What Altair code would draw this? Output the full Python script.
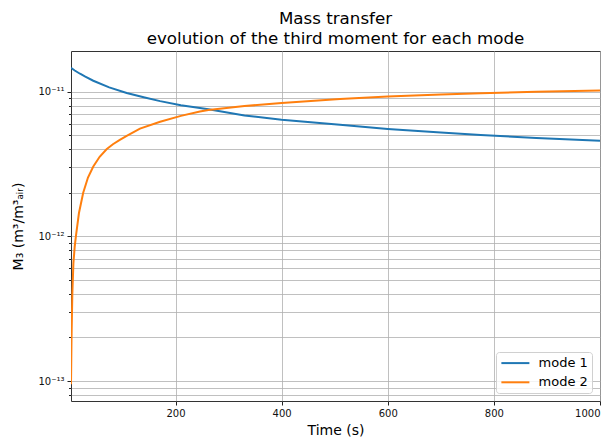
import altair as alt
import pandas as pd

# ---- data ----
t_mode1 = [3, 10, 20, 30, 45, 75, 108, 140, 171, 210, 246, 262, 330, 400, 510, 600, 700, 775, 880, 1000]
m3_mode1 = [1.46e-11, 1.40e-11, 1.33e-11, 1.27e-11, 1.19e-11, 1.07e-11, 9.8e-12, 9.15e-12, 8.6e-12,
            8.05e-12, 7.7e-12, 7.55e-12, 6.85e-12, 6.4e-12, 5.9e-12, 5.53e-12, 5.22e-12, 5.02e-12,
            4.78e-12, 4.57e-12]

t_mode2 = [3, 4, 5.5, 7.5, 10, 12.5, 18, 26, 35, 45, 57, 70, 82, 95, 108, 133, 171, 210, 246, 262,
           330, 400, 510, 600, 700, 775, 880, 1000]
m3_mode2 = [9.5e-14, 2.0e-13, 4.0e-13, 6.5e-13, 8.5e-13, 1.02e-12, 1.45e-12, 2.0e-12, 2.55e-12, 3.04e-12,
            3.55e-12, 4.0e-12, 4.33e-12, 4.64e-12, 4.95e-12, 5.55e-12, 6.2e-12, 6.8e-12, 7.3e-12, 7.47e-12,
            7.95e-12, 8.35e-12, 8.9e-12, 9.25e-12, 9.55e-12, 9.75e-12, 9.97e-12, 1.02e-11]

mode_names = ["mode 1", "mode 2"]
mode_colors = ["#1f77b4", "#ff7f0e"]

x_ticks = [200, 400, 600, 800, 1000]
y_major = [1e-13, 1e-12, 1e-11]
y_minor = [8e-14, 9e-14] + [k * 1e-13 for k in range(2, 10)] + [k * 1e-12 for k in range(2, 10)]
y_domain = [7.28e-14, 1.91e-11]
x_domain = [3, 1000]

df = pd.concat([
    pd.DataFrame({"t": t_mode1, "m3": m3_mode1, "mode": mode_names[0]}),
    pd.DataFrame({"t": t_mode2, "m3": m3_mode2, "mode": mode_names[1]}),
])

FONT = "DejaVu Sans"

yscale = alt.Scale(type="log", domain=y_domain, nice=False, zero=False)
x_enc = alt.X(
    "t:Q",
    scale=alt.Scale(domain=x_domain, nice=False, zero=False),
    axis=alt.Axis(values=x_ticks, title="Time (s)", grid=True, gridColor="#b0b0b0", gridWidth=0.8,
                  tickSize=4, tickColor="#222", domain=False, labelFontSize=10, labelColor="#111",
                  labelPadding=3, titleFontSize=14, titleFontWeight="normal", titleColor="#000",
                  titlePadding=5, format="d"),
)

base = alt.Chart(df)

lines = base.mark_line(strokeWidth=2, clip=True).encode(
    x=x_enc,
    y=alt.Y("m3:Q", scale=yscale,
            axis=alt.Axis(orient="left", values=y_minor, labels=False, title="", grid=True,
                          gridColor="#b0b0b0", gridWidth=0.8, tickSize=2.5, tickColor="#222",
                          domain=False)),
    color=alt.Color("mode:N", scale=alt.Scale(domain=mode_names, range=mode_colors),
                    legend=alt.Legend(title="", orient="bottom-right", offset=8,
                                      symbolType="M-0.88,0L3.43,0", symbolSize=169,
                                      symbolStrokeWidth=2, symbolFillColor="transparent",
                                      labelFontSize=13, labelColor="#000", labelOffset=24,
                                      rowPadding=4.2, padding=3.6,
                                      fillColor="rgba(255,255,255,0.8)", strokeColor="#d0d0d0",
                                      cornerRadius=3)),
)

major = base.mark_point(opacity=0, clip=True).encode(
    x=x_enc,
    y=alt.Y("m3:Q", scale=yscale,
            axis=alt.Axis(orient="left", values=y_major, grid=True, gridColor="#b0b0b0",
                          gridWidth=0.8, tickSize=4, tickColor="#222", domain=False,
                          labelFontSize=10, labelColor="#111", labelPadding=3,
                          labelExpr="datum.value < 5e-13 ? '10⁻¹³' : (datum.value < 5e-12 ? '10⁻¹²' : '10⁻¹¹')",
                          title="M₃ (m³/m³ₐᵢᵣ)", titleFontSize=14, titleFontWeight="normal",
                          titleColor="#000", titlePadding=12)),
)

chart = alt.layer(lines, major).resolve_axis(y="independent").properties(
    width=529,
    height=350,
    title=alt.TitleParams(["Mass transfer", "evolution of the third moment for each mode"],
                          fontSize=16.7, fontWeight="normal", anchor="middle", offset=3,
                          lineHeight=20, color="#000", font=FONT),
    autosize=alt.AutoSizeParams(type="none"),
    padding={"left": 63, "top": 43, "right": 4, "bottom": 36},
).configure(font=FONT).configure_view(stroke="#333", strokeWidth=1)

chart.save("out.html", embed_options={"renderer": "svg", "actions": False})
